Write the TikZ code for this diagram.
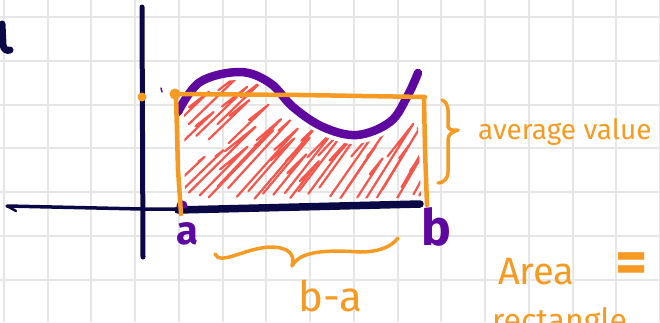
\documentclass[tikz,border=0pt]{standalone}
\usepackage{fontspec}
\setmainfont{Fira Sans}
\definecolor{gridc}{HTML}{E6E6E6}
\definecolor{navy}{HTML}{0B0945}
\definecolor{purp}{HTML}{5E08A0}
\definecolor{orng}{HTML}{F59B23}
\definecolor{hatch}{HTML}{F5564C}
\tikzset{
  gridline/.style={gridc, line width=2},
  axisline/.style={navy, line cap=round, line join=round},
  curveline/.style={purp, line width=8.5, line cap=round, line join=round},
  avgline/.style={orng, line width=4.5, line cap=round, line join=round},
  hatchline/.style={hatch, line width=2.2, line cap=round, line join=round},
  hand/.style={orng, inner sep=0, anchor=base west},
  lbl/.style={purp, inner sep=0, anchor=base west},
}
\begin{document}
\begin{tikzpicture}[x=1pt,y=-1pt]
\useasboundingbox (0,0) rectangle (660,322);
\begin{scope}
\clip (0,0) rectangle (660,322);
% grid
\foreach \k in {0,...,15} { \draw[gridline] (4+43.73*\k,0) -- (4+43.73*\k,322); }
\foreach \k in {0,...,7} { \draw[gridline] (0,17+43.8*\k) -- (660,17+43.8*\k); }

% hatching clipped under curve
\begin{scope}
\clip plot[smooth, tension=0.6] coordinates {(184,114) (200,89) (240,80) (270,91) (293,115) (323,136) (357,144) (390,131) (405,105) (416,82)} -- (421,198) -- (185,200) -- cycle;
\pgfmathsetseed{5}
\foreach \i in {0,...,27} {
  \pgfmathsetmacro\xs{170+\i*9.2+5*rnd}
  \pgfmathsetmacro\ys{202-16*rnd}
  \pgfmathsetmacro\ang{44+(\xs-180)/245*18}
  \pgfmathsetmacro\len{40+75*rnd}
  \pgfmathsetmacro\back{0.15+0.45*rnd}
  \draw[hatchline] (\xs,\ys) -- ++(-\ang:\len) -- ++(180-\ang+6:\len*\back);
}
\foreach \i in {0,...,6} {
  \pgfmathsetmacro\xs{166+\i*10+4*rnd}
  \pgfmathsetmacro\ys{150-30*rnd}
  \pgfmathsetmacro\len{45+45*rnd}
  \draw[hatchline] (\xs,\ys) -- ++(-44:\len) -- ++(142:\len*0.45);
}
\end{scope}

% axes
\draw[axisline, line width=5] (142,7) -- (143,257);
\draw[axisline, line width=3.5] (7,206) -- (142,209) -- (178,209);
\draw[axisline, line width=2.5] (7,206) -- (16,211);
\draw[axisline, line width=7.5] (178,210) -- (420,204);

% curve
\draw[curveline] plot[smooth, tension=0.6] coordinates {(178,112) (200,82) (240,72) (270,83) (293,107) (323,127) (357,135) (390,122) (407,97) (418,73)};
\draw[purp, line width=1.5, line cap=round] (161,88) -- (162,92);
\draw[purp, line width=5, line cap=round] (179,206) arc[start angle=180, end angle=360, radius=3];

% average rectangle
\draw[avgline] (175,94) -- (300,95) -- (425,97);
\draw[avgline] (176,95) -- (178,170) -- (181,214);
\draw[avgline] (424,99) -- (425,150) -- (427,205);
\fill[orng] (175,94) circle[radius=5.5];
\fill[orng] (142,97) circle[radius=4.5];

% labels a, b
\node[lbl, font=\fontsize{40}{40}\selectfont\bfseries] (la) at (176,244) {a};
\node[lbl, font=\fontsize{50}{50}\selectfont\bfseries] (lb) at (421,245) {b};

% bottom brace
\draw[avgline, line width=3.5] (215,254) .. controls (220,266) and (245,248) .. (270,247) .. controls (290,247) and (295,255) .. (292,266)
  (292,266) .. controls (300,250) and (330,250) .. (360,252) .. controls (380,252) and (392,246) .. (398,238);
\node[hand, font=\fontsize{42}{42}\selectfont] (ba) at (298,311) {b-a};

% right brace
\draw[avgline, line width=3.5] (442,100) .. controls (450,103) and (448,115) .. (448,127) .. controls (450,131) and (455,130) .. (458,130)
  (458,130) .. controls (452,132) and (448,134) .. (448,140) -- (448,172) .. controls (448,180) and (442,183) .. (438,183);
\node[hand, font=\fontsize{28}{28}\selectfont] (avg) at (478,139) {average value};

% area text
\node[hand, font=\fontsize{38}{38}\selectfont] (area) at (498,284) {Area};
\node[hand, font=\fontsize{62}{62}\selectfont\bfseries] (eq) at (615,283) {=};
\node[hand, font=\fontsize{32}{32}\selectfont] (rect) at (492,331) {rectangle};

% left edge mark
\draw[navy, line width=7, line cap=round] (2,24) -- (3,45) .. controls (4,50) and (7,51) .. (10,50);
\end{scope}
\end{tikzpicture}
\end{document}
